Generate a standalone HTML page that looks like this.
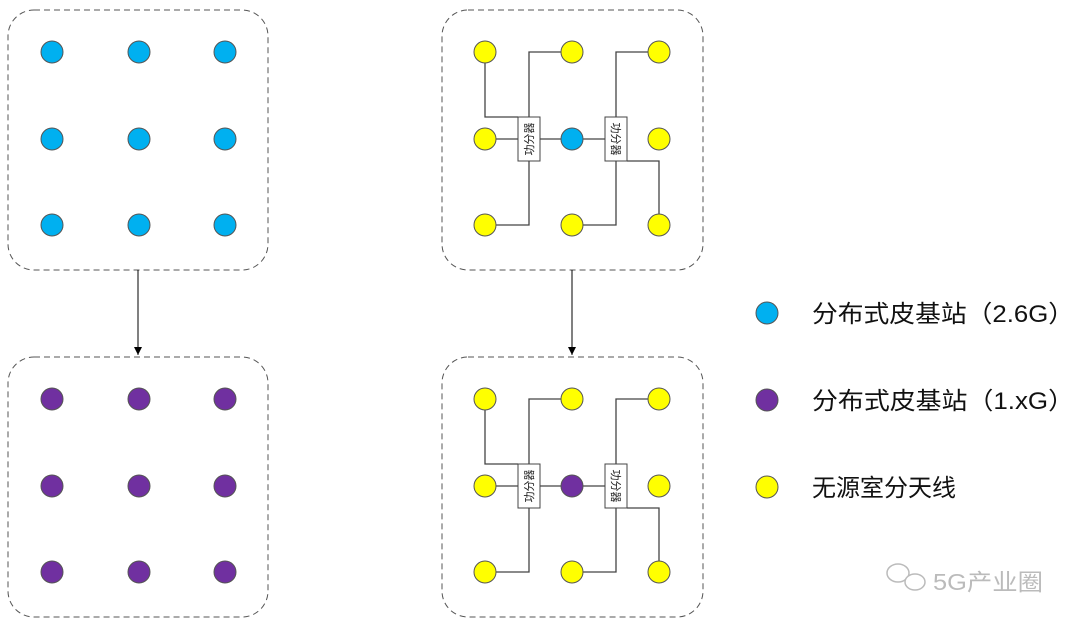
<!DOCTYPE html>
<html><head><meta charset="utf-8"><style>
body{margin:0;background:#fff;width:1080px;height:629px;overflow:hidden}
text{font-family:"Liberation Sans","Noto Sans CJK SC",sans-serif}
</style></head><body>
<svg width="1080" height="629" viewBox="0 0 1080 629" xmlns="http://www.w3.org/2000/svg">
<defs>
<marker id="ah" markerWidth="10" markerHeight="10" refX="9" refY="5" orient="auto" markerUnits="userSpaceOnUse">
<path d="M1,1 L9,5 L1,9 Z" fill="#000"/></marker>
<g id="net">
<g fill="none" stroke="#444" stroke-width="1.3">
<path d="M485,52 V117 H518"/>
<path d="M572,52 H529 V117"/>
<path d="M659,52 H616 V117"/>
<path d="M485,139 H518 M540,139 H605"/>
<path d="M529,161 V225 H485"/>
<path d="M616,161 V225 H572"/>
<path d="M627,161 H659 V225"/>
</g>
<rect x="518" y="117" width="22" height="44" fill="#fff" stroke="#444" stroke-width="1"/>
<rect x="605" y="117" width="22" height="44" fill="#fff" stroke="#444" stroke-width="1"/>
<text transform="translate(533,139) rotate(-90)" font-size="11" text-anchor="middle" fill="#222">功分器</text>
<text transform="translate(612,139) rotate(90)" font-size="11" text-anchor="middle" fill="#222">功分器</text>
<g fill="#FFFF00" stroke="#555" stroke-width="1">
<circle cx="485" cy="52" r="11"/><circle cx="572" cy="52" r="11"/><circle cx="659" cy="52" r="11"/>
<circle cx="485" cy="139" r="11"/><circle cx="659" cy="139" r="11"/>
<circle cx="485" cy="225" r="11"/><circle cx="572" cy="225" r="11"/><circle cx="659" cy="225" r="11"/>
</g>
</g>
<g id="grid">
<circle cx="52" cy="52" r="11"/><circle cx="139" cy="52" r="11"/><circle cx="225" cy="52" r="11"/>
<circle cx="52" cy="139" r="11"/><circle cx="139" cy="139" r="11"/><circle cx="225" cy="139" r="11"/>
<circle cx="52" cy="225" r="11"/><circle cx="139" cy="225" r="11"/><circle cx="225" cy="225" r="11"/>
</g>
</defs>
<g fill="none" stroke="#555" stroke-width="1" stroke-dasharray="6,4">
<rect x="8" y="10" width="260" height="260" rx="26"/>
<rect x="8" y="357" width="260" height="260" rx="26"/>
<rect x="442" y="10" width="261" height="260" rx="26"/>
<rect x="442" y="357" width="261" height="260" rx="26"/>
</g>
<g fill="#00B0F0" stroke="#555"><use href="#grid"/></g>
<g fill="#7030A0" stroke="#555" transform="translate(0,347)"><use href="#grid"/></g>
<use href="#net"/>
<circle cx="572" cy="139" r="11" fill="#00B0F0" stroke="#555"/>
<g transform="translate(0,347)"><use href="#net"/></g>
<circle cx="572" cy="486" r="11" fill="#7030A0" stroke="#555"/>
<line x1="138" y1="270" x2="138" y2="355" stroke="#000" stroke-width="1" marker-end="url(#ah)"/>
<line x1="572" y1="270" x2="572" y2="355" stroke="#000" stroke-width="1" marker-end="url(#ah)"/>
<circle cx="767" cy="313" r="11" fill="#00B0F0" stroke="#555"/>
<circle cx="767" cy="400" r="11" fill="#7030A0" stroke="#555"/>
<circle cx="767" cy="487" r="11" fill="#FFFF00" stroke="#555"/>
<g font-size="24" fill="#111">
<text x="812" y="322" textLength="262" lengthAdjust="spacingAndGlyphs">分布式皮基站（2.6G）</text>
<text x="812" y="409" textLength="262" lengthAdjust="spacingAndGlyphs">分布式皮基站（1.xG）</text>
<text x="812" y="496">无源室分天线</text>
</g>
<g fill="none" stroke="#bbb" stroke-width="1.5">
<ellipse cx="898" cy="573" rx="11" ry="9" fill="#fff"/>
<ellipse cx="915" cy="582" rx="10" ry="8" fill="#fff"/>
</g>
<text x="933" y="590" font-size="23" fill="#bbb" textLength="110" lengthAdjust="spacingAndGlyphs">5G产业圈</text>
</svg>
</body></html>
